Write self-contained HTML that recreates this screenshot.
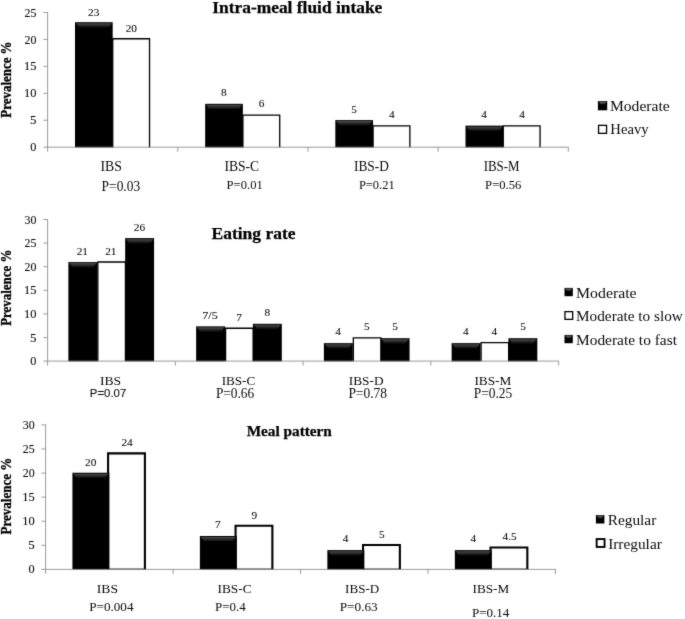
<!DOCTYPE html>
<html><head><meta charset="utf-8"><title>Prevalence charts</title>
<style>
html,body{margin:0;padding:0;background:#fff;}
body{width:685px;height:619px;overflow:hidden;font-family:"Liberation Serif",serif;}
</style></head><body>
<svg width="685" height="619" viewBox="0 0 685 619" font-family="'Liberation Serif', serif" style="display:block">
<defs><linearGradient id="bev" x1="0" y1="0" x2="0" y2="1"><stop offset="0" stop-color="#4c4c4c"/><stop offset="0.45" stop-color="#2a2a2a"/><stop offset="1" stop-color="#000"/></linearGradient><linearGradient id="bev2" x1="0" y1="0" x2="0" y2="1"><stop offset="0" stop-color="#6a6a6a"/><stop offset="1" stop-color="#2a2a2a"/></linearGradient><filter id="soft" x="-20" y="-20" width="725" height="659" filterUnits="userSpaceOnUse" color-interpolation-filters="sRGB"><feConvolveMatrix order="3" kernelMatrix="0.02 0.07 0.02 0.07 0.64 0.07 0.02 0.07 0.02" edgeMode="duplicate" preserveAlpha="true"/></filter></defs>
<g filter="url(#soft)">
<rect x="-20" y="-20" width="725" height="659" fill="#fff"/>
<rect x="112.74" y="38.74" width="36.79" height="108.66" fill="#fff"/>
<path d="M112.74,147.40 V38.74 H149.53 V147.40" fill="none" stroke="#000" stroke-width="1.3"/>
<rect x="242.91" y="115.09" width="36.79" height="32.31" fill="#fff"/>
<path d="M242.91,147.40 V115.09 H279.71 V147.40" fill="none" stroke="#000" stroke-width="1.3"/>
<rect x="373.09" y="125.97" width="36.79" height="21.43" fill="#fff"/>
<path d="M373.09,147.40 V125.97 H409.88 V147.40" fill="none" stroke="#000" stroke-width="1.3"/>
<rect x="503.26" y="125.97" width="36.79" height="21.43" fill="#fff"/>
<path d="M503.26,147.40 V125.97 H540.06 V147.40" fill="none" stroke="#000" stroke-width="1.3"/>
<rect x="74.99" y="22.20" width="37.69" height="125.30" fill="#000"/>
<polygon points="75.89,23.20 111.79,23.20 108.34,28.00 79.34,28.00" fill="url(#bev)"/>
<rect x="205.17" y="103.83" width="37.69" height="43.67" fill="#000"/>
<polygon points="206.07,104.83 241.96,104.83 238.51,109.63 209.52,109.63" fill="url(#bev)"/>
<rect x="335.34" y="120.10" width="37.69" height="27.40" fill="#000"/>
<polygon points="336.24,121.10 372.14,121.10 368.69,125.90 339.69,125.90" fill="url(#bev)"/>
<rect x="465.52" y="125.65" width="37.69" height="21.85" fill="#000"/>
<polygon points="466.42,126.65 502.31,126.65 498.86,131.45 469.87,131.45" fill="url(#bev)"/>
<line x1="47.60" y1="12.00" x2="47.60" y2="151.70" stroke="#8e8e8e" stroke-width="0.9"/>
<line x1="43.40" y1="147.20" x2="568.80" y2="147.20" stroke="#8e8e8e" stroke-width="0.9"/>
<text x="30.36" y="151.30" font-size="12.2" fill="#0a0a0a" stroke="#0a0a0a" stroke-width="0.08" textLength="6.13" lengthAdjust="spacingAndGlyphs">0</text>
<line x1="43.40" y1="120.26" x2="47.60" y2="120.26" stroke="#8e8e8e" stroke-width="0.9"/>
<text x="30.08" y="124.36" font-size="12.2" fill="#0a0a0a" stroke="#0a0a0a" stroke-width="0.08" textLength="6.44" lengthAdjust="spacingAndGlyphs">5</text>
<line x1="43.40" y1="93.32" x2="47.60" y2="93.32" stroke="#8e8e8e" stroke-width="0.9"/>
<text x="24.04" y="97.42" font-size="12.2" fill="#0a0a0a" stroke="#0a0a0a" stroke-width="0.08" textLength="12.46" lengthAdjust="spacingAndGlyphs">10</text>
<line x1="43.40" y1="66.38" x2="47.60" y2="66.38" stroke="#8e8e8e" stroke-width="0.9"/>
<text x="24.04" y="70.48" font-size="12.2" fill="#0a0a0a" stroke="#0a0a0a" stroke-width="0.08" textLength="12.46" lengthAdjust="spacingAndGlyphs">15</text>
<line x1="43.40" y1="39.44" x2="47.60" y2="39.44" stroke="#8e8e8e" stroke-width="0.9"/>
<text x="24.56" y="43.54" font-size="12.2" fill="#0a0a0a" stroke="#0a0a0a" stroke-width="0.08" textLength="11.91" lengthAdjust="spacingAndGlyphs">20</text>
<line x1="43.40" y1="12.50" x2="47.60" y2="12.50" stroke="#8e8e8e" stroke-width="0.9"/>
<text x="24.56" y="16.60" font-size="12.2" fill="#0a0a0a" stroke="#0a0a0a" stroke-width="0.08" textLength="11.91" lengthAdjust="spacingAndGlyphs">25</text>
<line x1="177.77" y1="147.20" x2="177.77" y2="151.70" stroke="#8e8e8e" stroke-width="0.9"/>
<line x1="307.95" y1="147.20" x2="307.95" y2="151.70" stroke="#8e8e8e" stroke-width="0.9"/>
<line x1="438.12" y1="147.20" x2="438.12" y2="151.70" stroke="#8e8e8e" stroke-width="0.9"/>
<line x1="568.30" y1="147.20" x2="568.30" y2="151.70" stroke="#8e8e8e" stroke-width="0.9"/>
<text x="88.12" y="15.90" font-size="11.3" fill="#0a0a0a" stroke="#0a0a0a" stroke-width="0.08" textLength="11.30" lengthAdjust="spacingAndGlyphs">23</text>
<text x="125.72" y="32.00" font-size="11.3" fill="#0a0a0a" stroke="#0a0a0a" stroke-width="0.08" textLength="11.30" lengthAdjust="spacingAndGlyphs">20</text>
<text x="220.88" y="96.40" font-size="11.3" fill="#0a0a0a" stroke="#0a0a0a" stroke-width="0.08" textLength="5.65" lengthAdjust="spacingAndGlyphs">8</text>
<text x="258.82" y="107.40" font-size="11.3" fill="#0a0a0a" stroke="#0a0a0a" stroke-width="0.08" textLength="5.65" lengthAdjust="spacingAndGlyphs">6</text>
<text x="351.16" y="112.50" font-size="11.3" fill="#0a0a0a" stroke="#0a0a0a" stroke-width="0.08" textLength="5.65" lengthAdjust="spacingAndGlyphs">5</text>
<text x="388.95" y="118.10" font-size="11.3" fill="#0a0a0a" stroke="#0a0a0a" stroke-width="0.08" textLength="5.65" lengthAdjust="spacingAndGlyphs">4</text>
<text x="481.35" y="118.10" font-size="11.3" fill="#0a0a0a" stroke="#0a0a0a" stroke-width="0.08" textLength="5.65" lengthAdjust="spacingAndGlyphs">4</text>
<text x="519.15" y="118.10" font-size="11.3" fill="#0a0a0a" stroke="#0a0a0a" stroke-width="0.08" textLength="5.65" lengthAdjust="spacingAndGlyphs">4</text>
<text transform="translate(10.70,117.69) rotate(-90)" font-size="14.5" font-weight="bold" fill="#000" stroke="#000" stroke-width="0.3" textLength="76.23" lengthAdjust="spacingAndGlyphs">Prevalence %</text>
<text x="212.29" y="12.60" font-size="17" font-weight="bold" fill="#000" stroke="#000" stroke-width="0.25" textLength="170.01" lengthAdjust="spacingAndGlyphs">Intra-meal fluid intake</text>
<text x="100.52" y="170.90" font-size="14" fill="#0a0a0a" stroke="#0a0a0a" stroke-width="0" textLength="21.43" lengthAdjust="spacingAndGlyphs">IBS</text>
<text x="101.60" y="190.50" font-size="14.3" fill="#0a0a0a" stroke="#0a0a0a" stroke-width="0" textLength="38.54" lengthAdjust="spacingAndGlyphs">P=0.03</text>
<text x="224.42" y="171.00" font-size="14" fill="#0a0a0a" stroke="#0a0a0a" stroke-width="0" textLength="34.74" lengthAdjust="spacingAndGlyphs">IBS-C</text>
<text x="226.62" y="189.00" font-size="12.8" fill="#0a0a0a" stroke="#0a0a0a" stroke-width="0" textLength="36.14" lengthAdjust="spacingAndGlyphs">P=0.01</text>
<text x="354.03" y="171.10" font-size="14" fill="#0a0a0a" stroke="#0a0a0a" stroke-width="0" textLength="34.85" lengthAdjust="spacingAndGlyphs">IBS-D</text>
<text x="358.93" y="189.00" font-size="12.8" fill="#0a0a0a" stroke="#0a0a0a" stroke-width="0" textLength="35.72" lengthAdjust="spacingAndGlyphs">P=0.21</text>
<text x="483.65" y="171.00" font-size="14" fill="#0a0a0a" stroke="#0a0a0a" stroke-width="0" textLength="35.92" lengthAdjust="spacingAndGlyphs">IBS-M</text>
<text x="485.12" y="189.00" font-size="12.8" fill="#0a0a0a" stroke="#0a0a0a" stroke-width="0" textLength="36.26" lengthAdjust="spacingAndGlyphs">P=0.56</text>
<rect x="597.90" y="101.00" width="9.30" height="9.30" fill="#000"/>
<polygon points="598.50,101.60 606.60,101.60 604.60,104.20 600.50,104.20" fill="url(#bev2)"/>
<text x="609.93" y="111.40" font-size="15.6" fill="#0a0a0a" stroke="#0a0a0a" stroke-width="0" textLength="59.86" lengthAdjust="spacingAndGlyphs">Moderate</text>
<rect x="598.55" y="125.35" width="8.00" height="8.00" fill="#fff" stroke="#000" stroke-width="1.3"/>
<text x="610.36" y="133.70" font-size="15.6" fill="#0a0a0a" stroke="#0a0a0a" stroke-width="0" textLength="38.31" lengthAdjust="spacingAndGlyphs">Heavy</text>
<rect x="97.83" y="262.02" width="27.59" height="99.28" fill="#fff"/>
<path d="M97.83,361.30 V262.02 H125.42 V361.30" fill="none" stroke="#000" stroke-width="1.3"/>
<rect x="225.58" y="328.24" width="27.59" height="33.06" fill="#fff"/>
<path d="M225.58,361.30 V328.24 H253.17 V361.30" fill="none" stroke="#000" stroke-width="1.3"/>
<rect x="353.33" y="337.91" width="27.59" height="23.39" fill="#fff"/>
<path d="M353.33,361.30 V337.91 H380.92 V361.30" fill="none" stroke="#000" stroke-width="1.3"/>
<rect x="481.08" y="342.63" width="27.59" height="18.67" fill="#fff"/>
<path d="M481.08,361.30 V342.63 H508.67 V361.30" fill="none" stroke="#000" stroke-width="1.3"/>
<rect x="68.39" y="262.12" width="28.89" height="99.28" fill="#000"/>
<polygon points="69.29,263.12 96.38,263.12 92.93,267.92 72.74,267.92" fill="url(#bev)"/>
<rect x="125.17" y="238.14" width="28.89" height="123.26" fill="#000"/>
<polygon points="126.07,239.14 153.16,239.14 149.71,243.94 129.52,243.94" fill="url(#bev)"/>
<rect x="196.14" y="326.36" width="28.89" height="35.04" fill="#000"/>
<polygon points="197.04,327.36 224.13,327.36 220.68,332.16 200.49,332.16" fill="url(#bev)"/>
<rect x="252.92" y="323.81" width="28.89" height="37.59" fill="#000"/>
<polygon points="253.82,324.81 280.91,324.81 277.46,329.61 257.27,329.61" fill="url(#bev)"/>
<rect x="323.89" y="343.16" width="28.89" height="18.24" fill="#000"/>
<polygon points="324.79,344.16 351.88,344.16 348.43,348.96 328.24,348.96" fill="url(#bev)"/>
<rect x="380.67" y="338.21" width="28.89" height="23.19" fill="#000"/>
<polygon points="381.57,339.21 408.66,339.21 405.21,344.01 385.02,344.01" fill="url(#bev)"/>
<rect x="451.64" y="343.16" width="28.89" height="18.24" fill="#000"/>
<polygon points="452.54,344.16 479.63,344.16 476.18,348.96 455.99,348.96" fill="url(#bev)"/>
<rect x="508.42" y="338.21" width="28.89" height="23.19" fill="#000"/>
<polygon points="509.32,339.21 536.41,339.21 532.96,344.01 512.77,344.01" fill="url(#bev)"/>
<line x1="47.60" y1="219.00" x2="47.60" y2="365.60" stroke="#8e8e8e" stroke-width="0.9"/>
<line x1="43.40" y1="361.10" x2="559.10" y2="361.10" stroke="#8e8e8e" stroke-width="0.9"/>
<text x="30.26" y="365.10" font-size="12.2" fill="#0a0a0a" stroke="#0a0a0a" stroke-width="0.08" textLength="6.13" lengthAdjust="spacingAndGlyphs">0</text>
<line x1="43.40" y1="337.50" x2="47.60" y2="337.50" stroke="#8e8e8e" stroke-width="0.9"/>
<text x="29.98" y="341.50" font-size="12.2" fill="#0a0a0a" stroke="#0a0a0a" stroke-width="0.08" textLength="6.44" lengthAdjust="spacingAndGlyphs">5</text>
<line x1="43.40" y1="313.90" x2="47.60" y2="313.90" stroke="#8e8e8e" stroke-width="0.9"/>
<text x="23.94" y="317.90" font-size="12.2" fill="#0a0a0a" stroke="#0a0a0a" stroke-width="0.08" textLength="12.46" lengthAdjust="spacingAndGlyphs">10</text>
<line x1="43.40" y1="290.30" x2="47.60" y2="290.30" stroke="#8e8e8e" stroke-width="0.9"/>
<text x="23.94" y="294.30" font-size="12.2" fill="#0a0a0a" stroke="#0a0a0a" stroke-width="0.08" textLength="12.46" lengthAdjust="spacingAndGlyphs">15</text>
<line x1="43.40" y1="266.70" x2="47.60" y2="266.70" stroke="#8e8e8e" stroke-width="0.9"/>
<text x="24.46" y="270.70" font-size="12.2" fill="#0a0a0a" stroke="#0a0a0a" stroke-width="0.08" textLength="11.91" lengthAdjust="spacingAndGlyphs">20</text>
<line x1="43.40" y1="243.10" x2="47.60" y2="243.10" stroke="#8e8e8e" stroke-width="0.9"/>
<text x="24.46" y="247.10" font-size="12.2" fill="#0a0a0a" stroke="#0a0a0a" stroke-width="0.08" textLength="11.91" lengthAdjust="spacingAndGlyphs">25</text>
<line x1="43.40" y1="219.50" x2="47.60" y2="219.50" stroke="#8e8e8e" stroke-width="0.9"/>
<text x="24.46" y="223.50" font-size="12.2" fill="#0a0a0a" stroke="#0a0a0a" stroke-width="0.08" textLength="11.91" lengthAdjust="spacingAndGlyphs">30</text>
<line x1="175.35" y1="361.10" x2="175.35" y2="365.60" stroke="#8e8e8e" stroke-width="0.9"/>
<line x1="303.10" y1="361.10" x2="303.10" y2="365.60" stroke="#8e8e8e" stroke-width="0.9"/>
<line x1="430.85" y1="361.10" x2="430.85" y2="365.60" stroke="#8e8e8e" stroke-width="0.9"/>
<line x1="558.60" y1="361.10" x2="558.60" y2="365.60" stroke="#8e8e8e" stroke-width="0.9"/>
<text x="76.73" y="254.60" font-size="11.3" fill="#0a0a0a" stroke="#0a0a0a" stroke-width="0.08" textLength="11.30" lengthAdjust="spacingAndGlyphs">21</text>
<text x="105.23" y="254.60" font-size="11.3" fill="#0a0a0a" stroke="#0a0a0a" stroke-width="0.08" textLength="11.30" lengthAdjust="spacingAndGlyphs">21</text>
<text x="133.87" y="230.90" font-size="11.3" fill="#0a0a0a" stroke="#0a0a0a" stroke-width="0.08" textLength="11.30" lengthAdjust="spacingAndGlyphs">26</text>
<text x="202.31" y="318.70" font-size="11.3" fill="#0a0a0a" stroke="#0a0a0a" stroke-width="0.08" textLength="15.44" lengthAdjust="spacingAndGlyphs">7/5</text>
<text x="236.18" y="320.90" font-size="11.3" fill="#0a0a0a" stroke="#0a0a0a" stroke-width="0.08" textLength="5.65" lengthAdjust="spacingAndGlyphs">7</text>
<text x="264.57" y="316.40" font-size="11.3" fill="#0a0a0a" stroke="#0a0a0a" stroke-width="0.08" textLength="5.65" lengthAdjust="spacingAndGlyphs">8</text>
<text x="335.35" y="334.80" font-size="11.3" fill="#0a0a0a" stroke="#0a0a0a" stroke-width="0.08" textLength="5.65" lengthAdjust="spacingAndGlyphs">4</text>
<text x="364.06" y="330.10" font-size="11.3" fill="#0a0a0a" stroke="#0a0a0a" stroke-width="0.08" textLength="5.65" lengthAdjust="spacingAndGlyphs">5</text>
<text x="392.26" y="330.10" font-size="11.3" fill="#0a0a0a" stroke="#0a0a0a" stroke-width="0.08" textLength="5.65" lengthAdjust="spacingAndGlyphs">5</text>
<text x="462.95" y="334.80" font-size="11.3" fill="#0a0a0a" stroke="#0a0a0a" stroke-width="0.08" textLength="5.65" lengthAdjust="spacingAndGlyphs">4</text>
<text x="491.55" y="334.80" font-size="11.3" fill="#0a0a0a" stroke="#0a0a0a" stroke-width="0.08" textLength="5.65" lengthAdjust="spacingAndGlyphs">4</text>
<text x="520.26" y="330.10" font-size="11.3" fill="#0a0a0a" stroke="#0a0a0a" stroke-width="0.08" textLength="5.65" lengthAdjust="spacingAndGlyphs">5</text>
<text transform="translate(10.70,325.79) rotate(-90)" font-size="14.5" font-weight="bold" fill="#000" stroke="#000" stroke-width="0.3" textLength="76.13" lengthAdjust="spacingAndGlyphs">Prevalence %</text>
<text x="211.54" y="239.00" font-size="17" font-weight="bold" fill="#000" stroke="#000" stroke-width="0.25" textLength="84.00" lengthAdjust="spacingAndGlyphs">Eating rate</text>
<text x="99.92" y="384.70" font-size="13.5" fill="#0a0a0a" stroke="#0a0a0a" stroke-width="0" textLength="21.21" lengthAdjust="spacingAndGlyphs">IBS</text>
<text x="89.79" y="397.40" font-size="11" font-family="'Liberation Sans', sans-serif" fill="#0a0a0a" stroke="#0a0a0a" stroke-width="0.08" textLength="36.51" lengthAdjust="spacingAndGlyphs">P=0.07</text>
<text x="221.64" y="384.70" font-size="13.5" fill="#0a0a0a" stroke="#0a0a0a" stroke-width="0" textLength="33.60" lengthAdjust="spacingAndGlyphs">IBS-C</text>
<text x="215.90" y="398.30" font-size="13.8" fill="#0a0a0a" stroke="#0a0a0a" stroke-width="0" textLength="38.30" lengthAdjust="spacingAndGlyphs">P=0.66</text>
<text x="348.73" y="384.70" font-size="13.5" fill="#0a0a0a" stroke="#0a0a0a" stroke-width="0" textLength="34.85" lengthAdjust="spacingAndGlyphs">IBS-D</text>
<text x="348.40" y="398.30" font-size="13.8" fill="#0a0a0a" stroke="#0a0a0a" stroke-width="0" textLength="38.54" lengthAdjust="spacingAndGlyphs">P=0.78</text>
<text x="474.43" y="384.70" font-size="13.5" fill="#0a0a0a" stroke="#0a0a0a" stroke-width="0" textLength="36.94" lengthAdjust="spacingAndGlyphs">IBS-M</text>
<text x="473.80" y="398.30" font-size="13.8" fill="#0a0a0a" stroke="#0a0a0a" stroke-width="0" textLength="38.44" lengthAdjust="spacingAndGlyphs">P=0.25</text>
<rect x="564.50" y="287.90" width="8.30" height="8.30" fill="#000"/>
<polygon points="565.10,288.50 572.20,288.50 570.20,291.10 567.10,291.10" fill="url(#bev2)"/>
<text x="576.03" y="297.60" font-size="15.5" fill="#0a0a0a" stroke="#0a0a0a" stroke-width="0" textLength="60.57" lengthAdjust="spacingAndGlyphs">Moderate</text>
<rect x="564.95" y="311.65" width="7.70" height="7.70" fill="#fff" stroke="#000" stroke-width="1.3"/>
<text x="576.04" y="321.10" font-size="15.5" fill="#0a0a0a" stroke="#0a0a0a" stroke-width="0" textLength="106.81" lengthAdjust="spacingAndGlyphs">Moderate to slow</text>
<rect x="564.50" y="334.90" width="8.30" height="8.30" fill="#000"/>
<polygon points="565.10,335.50 572.20,335.50 570.20,338.10 567.10,338.10" fill="url(#bev2)"/>
<text x="576.04" y="344.50" font-size="15.5" fill="#0a0a0a" stroke="#0a0a0a" stroke-width="0" textLength="100.89" lengthAdjust="spacingAndGlyphs">Moderate to fast</text>
<rect x="108.09" y="453.40" width="36.82" height="116.20" fill="#fff"/>
<path d="M108.09,569.60 V453.40 H144.91 V569.60" fill="none" stroke="#000" stroke-width="2.1"/>
<line x1="107.04" y1="569.10" x2="145.96" y2="569.10" stroke="#000" stroke-width="1.0"/>
<rect x="235.56" y="525.75" width="36.82" height="43.85" fill="#fff"/>
<path d="M235.56,569.60 V525.75 H272.38 V569.60" fill="none" stroke="#000" stroke-width="2.1"/>
<line x1="234.51" y1="569.10" x2="273.43" y2="569.10" stroke="#000" stroke-width="1.0"/>
<rect x="363.04" y="545.07" width="36.82" height="24.53" fill="#fff"/>
<path d="M363.04,569.60 V545.07 H399.86 V569.60" fill="none" stroke="#000" stroke-width="2.1"/>
<line x1="361.99" y1="569.10" x2="400.91" y2="569.10" stroke="#000" stroke-width="1.0"/>
<rect x="490.51" y="547.52" width="36.82" height="22.08" fill="#fff"/>
<path d="M490.51,569.60 V547.52 H527.33 V569.60" fill="none" stroke="#000" stroke-width="2.1"/>
<line x1="489.46" y1="569.10" x2="528.38" y2="569.10" stroke="#000" stroke-width="1.0"/>
<rect x="72.42" y="472.73" width="36.92" height="96.97" fill="#000"/>
<polygon points="73.32,473.73 108.44,473.73 104.99,478.53 76.77,478.53" fill="url(#bev)"/>
<rect x="199.89" y="536.02" width="36.92" height="33.68" fill="#000"/>
<polygon points="200.79,537.02 235.91,537.02 232.46,541.82 204.24,541.82" fill="url(#bev)"/>
<rect x="327.37" y="550.13" width="36.92" height="19.57" fill="#000"/>
<polygon points="328.27,551.13 363.39,551.13 359.94,555.93 331.72,555.93" fill="url(#bev)"/>
<rect x="454.84" y="550.13" width="36.92" height="19.57" fill="#000"/>
<polygon points="455.74,551.13 490.86,551.13 487.41,555.93 459.19,555.93" fill="url(#bev)"/>
<line x1="45.60" y1="424.40" x2="45.60" y2="573.90" stroke="#8e8e8e" stroke-width="0.9"/>
<line x1="41.40" y1="569.40" x2="556.00" y2="569.40" stroke="#8e8e8e" stroke-width="0.9"/>
<text x="28.56" y="573.20" font-size="12.2" fill="#0a0a0a" stroke="#0a0a0a" stroke-width="0.08" textLength="6.13" lengthAdjust="spacingAndGlyphs">0</text>
<line x1="41.40" y1="545.32" x2="45.60" y2="545.32" stroke="#8e8e8e" stroke-width="0.9"/>
<text x="28.28" y="549.12" font-size="12.2" fill="#0a0a0a" stroke="#0a0a0a" stroke-width="0.08" textLength="6.44" lengthAdjust="spacingAndGlyphs">5</text>
<line x1="41.40" y1="521.23" x2="45.60" y2="521.23" stroke="#8e8e8e" stroke-width="0.9"/>
<text x="22.24" y="525.03" font-size="12.2" fill="#0a0a0a" stroke="#0a0a0a" stroke-width="0.08" textLength="12.46" lengthAdjust="spacingAndGlyphs">10</text>
<line x1="41.40" y1="497.15" x2="45.60" y2="497.15" stroke="#8e8e8e" stroke-width="0.9"/>
<text x="22.24" y="500.95" font-size="12.2" fill="#0a0a0a" stroke="#0a0a0a" stroke-width="0.08" textLength="12.46" lengthAdjust="spacingAndGlyphs">15</text>
<line x1="41.40" y1="473.07" x2="45.60" y2="473.07" stroke="#8e8e8e" stroke-width="0.9"/>
<text x="22.76" y="476.87" font-size="12.2" fill="#0a0a0a" stroke="#0a0a0a" stroke-width="0.08" textLength="11.91" lengthAdjust="spacingAndGlyphs">20</text>
<line x1="41.40" y1="448.98" x2="45.60" y2="448.98" stroke="#8e8e8e" stroke-width="0.9"/>
<text x="22.76" y="452.78" font-size="12.2" fill="#0a0a0a" stroke="#0a0a0a" stroke-width="0.08" textLength="11.91" lengthAdjust="spacingAndGlyphs">25</text>
<line x1="41.40" y1="424.90" x2="45.60" y2="424.90" stroke="#8e8e8e" stroke-width="0.9"/>
<text x="22.76" y="428.70" font-size="12.2" fill="#0a0a0a" stroke="#0a0a0a" stroke-width="0.08" textLength="11.91" lengthAdjust="spacingAndGlyphs">30</text>
<line x1="173.07" y1="569.40" x2="173.07" y2="573.90" stroke="#8e8e8e" stroke-width="0.9"/>
<line x1="300.55" y1="569.40" x2="300.55" y2="573.90" stroke="#8e8e8e" stroke-width="0.9"/>
<line x1="428.02" y1="569.40" x2="428.02" y2="573.90" stroke="#8e8e8e" stroke-width="0.9"/>
<line x1="555.50" y1="569.40" x2="555.50" y2="573.90" stroke="#8e8e8e" stroke-width="0.9"/>
<text x="85.12" y="465.80" font-size="11.3" fill="#0a0a0a" stroke="#0a0a0a" stroke-width="0.08" textLength="11.30" lengthAdjust="spacingAndGlyphs">20</text>
<text x="121.38" y="446.10" font-size="11.3" fill="#0a0a0a" stroke="#0a0a0a" stroke-width="0.08" textLength="11.30" lengthAdjust="spacingAndGlyphs">24</text>
<text x="214.98" y="528.10" font-size="11.3" fill="#0a0a0a" stroke="#0a0a0a" stroke-width="0.08" textLength="5.65" lengthAdjust="spacingAndGlyphs">7</text>
<text x="251.43" y="518.90" font-size="11.3" fill="#0a0a0a" stroke="#0a0a0a" stroke-width="0.08" textLength="5.65" lengthAdjust="spacingAndGlyphs">9</text>
<text x="342.65" y="542.20" font-size="11.3" fill="#0a0a0a" stroke="#0a0a0a" stroke-width="0.08" textLength="5.65" lengthAdjust="spacingAndGlyphs">4</text>
<text x="379.06" y="537.70" font-size="11.3" fill="#0a0a0a" stroke="#0a0a0a" stroke-width="0.08" textLength="5.65" lengthAdjust="spacingAndGlyphs">5</text>
<text x="470.45" y="542.20" font-size="11.3" fill="#0a0a0a" stroke="#0a0a0a" stroke-width="0.08" textLength="5.65" lengthAdjust="spacingAndGlyphs">4</text>
<text x="502.52" y="540.00" font-size="11.3" fill="#0a0a0a" stroke="#0a0a0a" stroke-width="0.08" textLength="14.18" lengthAdjust="spacingAndGlyphs">4.5</text>
<text transform="translate(10.70,534.50) rotate(-90)" font-size="14.5" font-weight="bold" fill="#000" stroke="#000" stroke-width="0.3" textLength="76.85" lengthAdjust="spacingAndGlyphs">Prevalence %</text>
<text x="246.67" y="436.40" font-size="15" font-weight="bold" fill="#000" stroke="#000" stroke-width="0.25" textLength="85.18" lengthAdjust="spacingAndGlyphs">Meal pattern</text>
<text x="96.72" y="593.00" font-size="13.5" fill="#0a0a0a" stroke="#0a0a0a" stroke-width="0" textLength="21.32" lengthAdjust="spacingAndGlyphs">IBS</text>
<text x="89.21" y="610.50" font-size="13.5" fill="#0a0a0a" stroke="#0a0a0a" stroke-width="0" textLength="44.29" lengthAdjust="spacingAndGlyphs">P=0.004</text>
<text x="217.53" y="593.00" font-size="13.5" fill="#0a0a0a" stroke="#0a0a0a" stroke-width="0" textLength="34.12" lengthAdjust="spacingAndGlyphs">IBS-C</text>
<text x="214.91" y="610.80" font-size="13.5" fill="#0a0a0a" stroke="#0a0a0a" stroke-width="0" textLength="30.79" lengthAdjust="spacingAndGlyphs">P=0.4</text>
<text x="345.04" y="593.00" font-size="13.5" fill="#0a0a0a" stroke="#0a0a0a" stroke-width="0" textLength="34.24" lengthAdjust="spacingAndGlyphs">IBS-D</text>
<text x="339.70" y="610.50" font-size="13.5" fill="#0a0a0a" stroke="#0a0a0a" stroke-width="0" textLength="38.03" lengthAdjust="spacingAndGlyphs">P=0.63</text>
<text x="472.54" y="593.00" font-size="13.5" fill="#0a0a0a" stroke="#0a0a0a" stroke-width="0" textLength="36.64" lengthAdjust="spacingAndGlyphs">IBS-M</text>
<text x="471.91" y="617.10" font-size="13.5" fill="#0a0a0a" stroke="#0a0a0a" stroke-width="0" textLength="37.49" lengthAdjust="spacingAndGlyphs">P=0.14</text>
<rect x="595.90" y="515.00" width="8.50" height="8.50" fill="#000"/>
<polygon points="596.50,515.60 603.80,515.60 601.80,518.20 598.50,518.20" fill="url(#bev2)"/>
<text x="607.74" y="524.90" font-size="15.5" fill="#0a0a0a" stroke="#0a0a0a" stroke-width="0" textLength="48.55" lengthAdjust="spacingAndGlyphs">Regular</text>
<rect x="596.65" y="539.05" width="7.90" height="7.90" fill="#fff" stroke="#000" stroke-width="1.9"/>
<text x="608.16" y="548.80" font-size="15.5" fill="#0a0a0a" stroke="#0a0a0a" stroke-width="0" textLength="53.65" lengthAdjust="spacingAndGlyphs">Irregular</text>
</g>
</svg>
</body></html>
